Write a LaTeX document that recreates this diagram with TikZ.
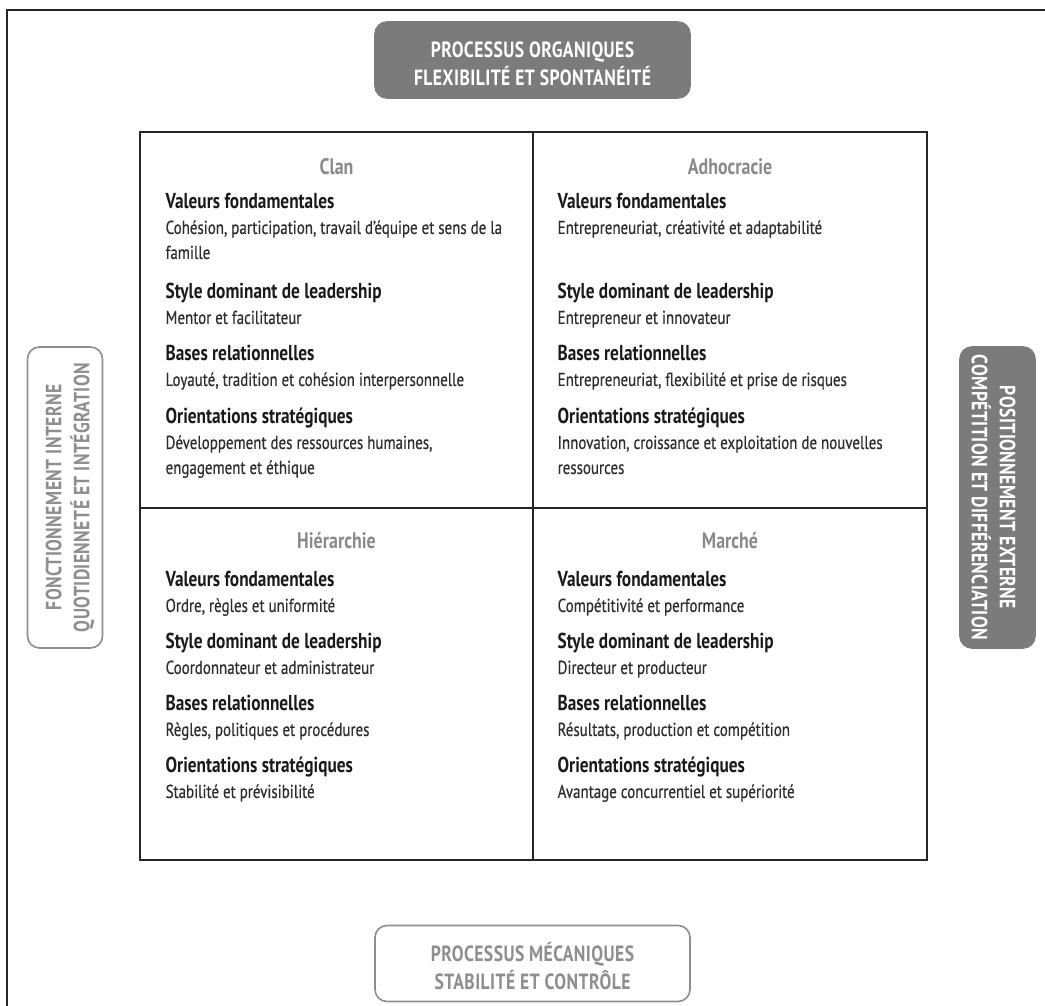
\documentclass[tikz,border=0pt]{standalone}
\usepackage{fontspec}
\setmainfont{PT Sans}[FakeStretch=0.8]
\newfontfamily\bodyfont{PT Sans}[FakeStretch=0.8,FakeBold=0.5]
\newfontfamily\axisfont{PT Sans}[FakeStretch=0.8,LetterSpace=2]
\usetikzlibrary{positioning}
\definecolor{boxgray}{HTML}{7B7B7B}
\definecolor{linegray}{HTML}{8E8E8E}
\definecolor{titlegray}{HTML}{8A8A8A}
\definecolor{bodygray}{HTML}{2E2E2E}
\definecolor{headblack}{HTML}{1A1A1A}
\newcommand{\rub}[1]{{\normalfont\bfseries\fontsize{10.8}{12.5}\selectfont\color{headblack}#1}}

\begin{document}
\begin{tikzpicture}[x=0.5pt,y=-0.5pt,
  quad/.style={draw=black!85,line width=0.75pt,minimum width=196.5pt,inner sep=0pt},
  quad title/.style={font=\bfseries\fontsize{11.2}{12}\selectfont,text=titlegray,inner sep=0pt},
  quad body/.style={align=left,font=\bodyfont\fontsize{9.35}{12.5}\selectfont,text=bodygray,inner sep=0pt},
  axis box/.style={rounded corners=6pt,minimum width=157.5pt,minimum height=38pt,line width=0.8pt},
  axis dark/.style={axis box,fill=boxgray,draw=boxgray},
  axis light/.style={axis box,fill=white,draw=linegray},
  axis text/.style={align=center,inner sep=0pt,font=\axisfont\bfseries\fontsize{11}{14}\selectfont}]

  \useasboundingbox (0,0) rectangle (1045,1006);
  \draw[line width=1pt,black!85] (7,1006) -- (7,10) -- (1045,10);

  \node[quad,minimum height=188pt] (clan) at (336.5,320) {};
  \node[quad,minimum height=188pt,minimum width=197pt] (adho) at (730,320) {};
  \node[quad,minimum height=176pt] (hier) at (336.5,684) {};
  \node[quad,minimum height=176pt,minimum width=197pt] (marche) at (730,684) {};

  \node[axis dark] (organ) at (532.5,60) {};
  \node[axis light] (meca) at (532.5,963.5) {};
  \node[axis light,rotate=90,minimum width=150.5pt,minimum height=37.5pt] (interne) at (65,497.5) {};
  \node[axis dark,rotate=-90,minimum width=150.5pt,minimum height=37.5pt] (externe) at (997.5,497.5) {};

  \node[axis text,text=white] (organ txt) at ([yshift=-2pt]organ.center)
    {PROCESSUS ORGANIQUES\\FLEXIBILITÉ ET SPONTANÉITÉ};
  \node[axis text,text=linegray] (meca txt) at ([yshift=-1.5pt]meca.center)
    {PROCESSUS MÉCANIQUES\\STABILITÉ ET CONTRÔLE};
  \node[axis text,text=linegray,rotate=90] (interne txt) at ([xshift=2.5pt]interne.center)
    {FONCTIONNEMENT INTERNE\\QUOTIDIENNETÉ ET INTÉGRATION};
  \node[axis text,text=white,rotate=-90] (externe txt) at ([xshift=-2pt]externe.center)
    {POSITIONNEMENT EXTERNE\\COMPÉTITION ET DIFFÉRENCIATION};

  \node[quad title,below=21.5pt of clan.north,anchor=base] (clan t) {Clan};
  \node[quad title,below=21.5pt of adho.north,anchor=base] (adho t) {Adhocracie};
  \node[quad title,below=20.5pt of hier.north,anchor=base] (hier t) {Hiérarchie};
  \node[quad title,below=20.5pt of marche.north,anchor=base] (marche t) {Marché};

  \node[quad body,below right=31pt and 13pt of clan.north west] (clan b) {%
    \rub{Valeurs fondamentales}\\
    Cohésion, participation, travail d’équipe et sens de la\\
    famille\\[7.5pt]
    \rub{Style dominant de leadership}\\
    Mentor et facilitateur\\[6pt]
    \rub{Bases relationnelles}\\
    Loyauté, tradition et cohésion interpersonnelle\\[6.5pt]
    \rub{Orientations stratégiques}\\
    Développement des ressources humaines,\\
    engagement et éthique};
  \node[quad body,below right=31pt and 12.5pt of adho.north west] (adho b) {%
    \rub{Valeurs fondamentales}\\
    Entrepreneuriat, créativité et adaptabilité\\[20pt]
    \rub{Style dominant de leadership}\\
    Entrepreneur et innovateur\\[6pt]
    \rub{Bases relationnelles}\\
    Entrepreneuriat, flexibilité et prise de risques\\[6.5pt]
    \rub{Orientations stratégiques}\\
    Innovation, croissance et exploitation de nouvelles\\
    ressources};
  \node[quad body,below right=32pt and 13pt of hier.north west] (hier b) {%
    \rub{Valeurs fondamentales}\\
    Ordre, règles et uniformité\\[6pt]
    \rub{Style dominant de leadership}\\
    Coordonnateur et administrateur\\[6pt]
    \rub{Bases relationnelles}\\
    Règles, politiques et procédures\\[6pt]
    \rub{Orientations stratégiques}\\
    Stabilité et prévisibilité};
  \node[quad body,below right=32pt and 12.5pt of marche.north west] (marche b) {%
    \rub{Valeurs fondamentales}\\
    Compétitivité et performance\\[6pt]
    \rub{Style dominant de leadership}\\
    Directeur et producteur\\[6pt]
    \rub{Bases relationnelles}\\
    Résultats, production et compétition\\[6pt]
    \rub{Orientations stratégiques}\\
    Avantage concurrentiel et supériorité};
\end{tikzpicture}
\end{document}
